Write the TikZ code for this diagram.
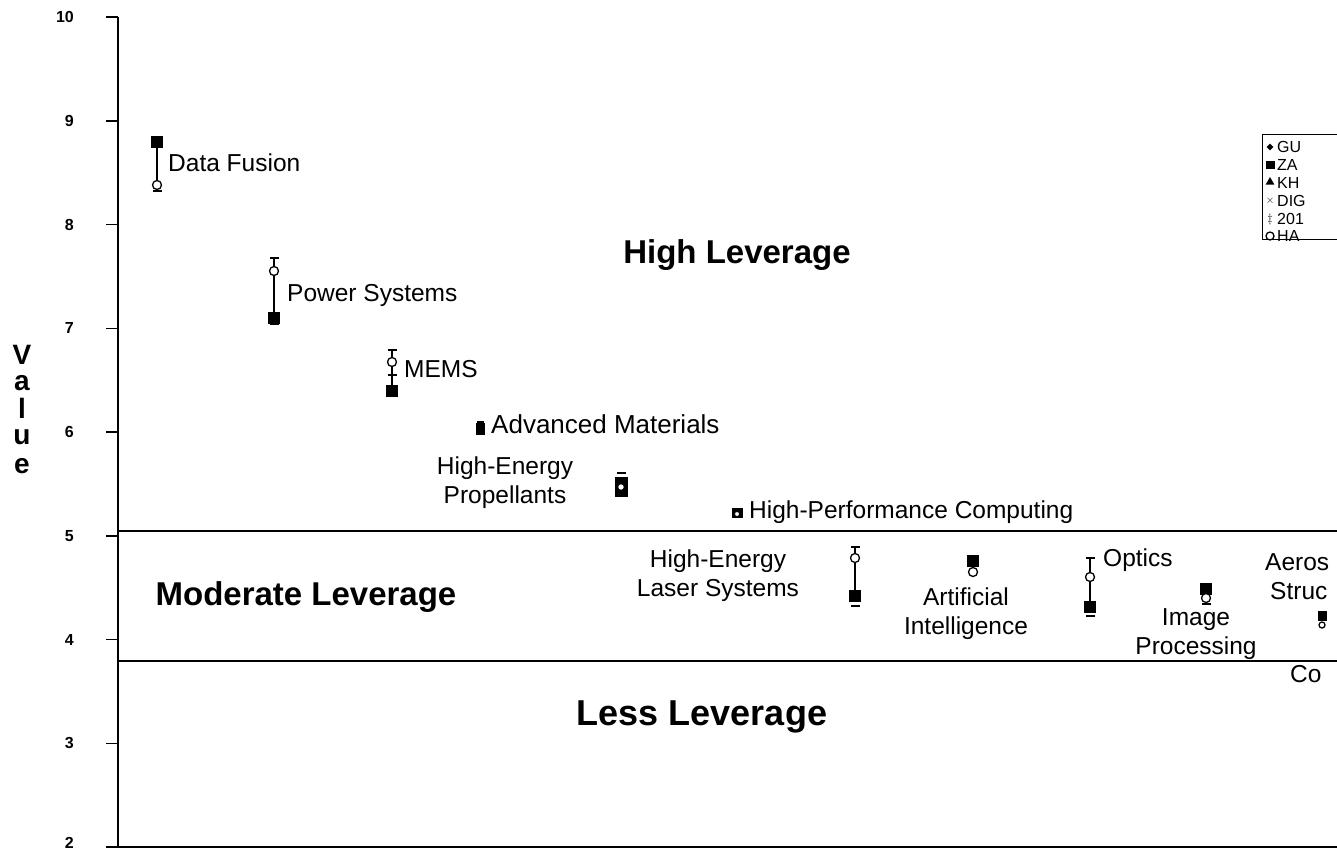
\documentclass[tikz,border=0pt]{standalone}
\usepackage{fontspec}
\setmainfont{Liberation Sans}
\usetikzlibrary{shapes.geometric}
\tikzset{
  axisline/.style={line width=1.8pt,black},
  levline/.style={line width=1.8pt,black},
  tickline/.style={line width=1.5pt,black},
  ticklab/.style={anchor=east,font=\fontsize{16}{18}\selectfont\bfseries,inner sep=0pt},
  lab/.style={font=\fontsize{24.5}{29}\selectfont,inner sep=0pt},
  biglab/.style={font=\fontsize{33}{38}\selectfont\bfseries,inner sep=0pt},
  vlab/.style={font=\fontsize{28}{30}\selectfont\bfseries,inner sep=0pt},
  sqm/.style={rectangle,fill=black,minimum width=12pt,minimum height=12pt,inner sep=0pt},
  openm/.style={circle,draw=black,fill=white,line width=1.3pt,minimum size=9pt,inner sep=0pt},
  capm/.style={rectangle,fill=black,minimum width=9pt,minimum height=2pt,inner sep=0pt},
  rng/.style={line width=1.8pt,black},
  legtext/.style={anchor=west,font=\fontsize{16}{18}\selectfont,inner sep=0pt},
}
\begin{document}
\begin{tikzpicture}[x=1pt,y=-1pt]
\useasboundingbox (0,0) rectangle (1337,852);
\clip (0,0) rectangle (1337,852);
\fill[white] (0,0) rectangle (1337,852);
% axes
\coordinate (ytop) at (118,17);
\coordinate (orig) at (118,847);
\coordinate (xend) at (1340,847);
\draw[axisline] (ytop) -- (orig) -- (xend);
% ticks and labels
\foreach \v in {3,...,10}{
  \pgfmathsetmacro{\yy}{847-(\v-2)*103.75}
  \coordinate (t\v) at (118,\yy);
  \coordinate (tl\v) at (106,\yy);
  \draw[tickline] (tl\v) -- (t\v);
  \node[ticklab] (n\v) at (74,\yy) {\v};
}
\coordinate (t2) at (118,847);
\coordinate (tl2) at (106,847);
\draw[tickline] (tl2) -- (t2);
\node[ticklab] (n2) at (74,843) {2};
% leverage boundaries
\coordinate (l1a) at (118,531); \coordinate (l1b) at (1340,531);
\coordinate (l2a) at (118,661); \coordinate (l2b) at (1340,661);
\draw[levline] (l1a) -- (l1b);
\draw[levline] (l2a) -- (l2b);
% axis title
\node[vlab] (va) at (22,355) {V};
\node[vlab] (vb) at (22,383) {a};
\node[vlab] (vc) at (22,408) {l};
\node[vlab] (vd) at (22,437) {u};
\node[vlab] (ve) at (22,466) {e};
% region labels
\node[biglab] (hl) at (737,255) {High Leverage};
\node[biglab] (ml) at (306,597) {Moderate Leverage};
\node[biglab,font=\fontsize{36}{40}\selectfont\bfseries] (ll) at (702,717) {Less Leverage};
% Data Fusion
\node[sqm] (df1) at (157,142) {};
\node[capm] (df3) at (157,191) {};
\draw[rng] (df1) -- (df3);
\node[openm] (df2) at (157,185) {};
\node[lab,anchor=west] (dfl) at (168,163) {Data Fusion};
% Power Systems
\node[capm] (ps0) at (274,258) {};
\node[sqm] (ps2) at (274,318) {};
\draw[rng] (ps0) -- (ps2);
\node[openm] (ps1) at (274,271) {};
\node[capm] (ps3) at (274,324) {};
\node[lab,anchor=west] (psl) at (287,295) {Power Systems};
% MEMS
\node[capm] (me0) at (392,350) {};
\node[sqm] (me3) at (392,391) {};
\draw[rng] (me0) -- (me3);
\node[openm] (me1) at (392,362) {};
\node[capm] (me2) at (392,375) {};
\node[lab,anchor=west] (mel) at (404,369) {MEMS};
% Advanced Materials
\node[sqm,minimum width=9pt,minimum height=12pt] (am1) at (480,429) {};
\node[capm,minimum width=7pt] (am0) at (480,422) {};
\node[lab,anchor=west,font=\fontsize{26}{30}\selectfont] (aml) at (491,424) {Advanced Materials};
% High-Energy Propellants
\node[capm] (hp0) at (621,473) {};
\node[sqm,minimum width=13pt,minimum height=20pt] (hp1) at (621,487) {};
\node[openm,minimum size=7pt] (hp2) at (621,487) {};
\node[lab,align=center] (hpl) at (505,483) {High-Energy\\Propellants};
% High-Performance Computing
\node[sqm,minimum width=11pt,minimum height=10pt] (hc1) at (737,513) {};
\node[openm,minimum size=5pt,line width=0.8pt] (hc2) at (737,514) {};
\node[lab,anchor=west] (hcl) at (749,512) {High-Performance Computing};
% High-Energy Laser Systems
\node[capm] (hl0) at (855,547) {};
\node[sqm] (hl2) at (855,596) {};
\draw[rng] (hl0) -- (hl2);
\node[openm] (hl1) at (855,558) {};
\node[capm] (hl3) at (855,606) {};
\node[lab,align=center] (hll) at (718,576) {High-Energy\\Laser Systems};
% Artificial Intelligence
\node[sqm] (ai1) at (973,561) {};
\node[openm] (ai2) at (973,572) {};
\node[lab,align=center] (ail) at (966,614) {Artificial\\Intelligence};
% Optics
\node[capm] (op0) at (1090,558) {};
\node[sqm] (op2) at (1090,607) {};
\draw[rng] (op0) -- (op2);
\node[openm] (op1) at (1090,577) {};
\node[capm] (op3) at (1090,616) {};
\node[lab,anchor=west] (opl) at (1103,560) {Optics};
% Image Processing
\node[sqm] (ip1) at (1206,589) {};
\node[openm] (ip2) at (1206,598) {};
\node[capm] (ip3) at (1206,604) {};
\node[lab,align=center] (ipl) at (1196,634) {Image\\Processing};
% Aerospace Structures
\node[sqm,minimum width=9pt,minimum height=10pt] (as1) at (1322,616) {};
\node[openm,minimum size=6pt] (as2) at (1322,625) {};
\node[lab,anchor=west] (asl1) at (1265,562) {Aeros};
\node[lab,anchor=west] (asl2) at (1270,591) {Struc};
\node[lab,anchor=west] (col) at (1290,674) {Co};
% legend
\node[draw=black,line width=1.3pt,rectangle,minimum width=90pt,minimum height=105pt,anchor=north west] (leg) at (1262,134) {};
\node[diamond,fill=black,minimum size=7pt,inner sep=0pt] (lm1) at (1270,147) {};
\node[legtext] (lt1) at (1277,147) {GU};
\node[rectangle,fill=black,minimum width=9pt,minimum height=8pt,inner sep=0pt] (lm2) at (1270,165) {};
\node[legtext] (lt2) at (1277,165) {ZA};
\node[regular polygon,regular polygon sides=3,fill=black,minimum size=10pt,inner sep=0pt] (lm3) at (1270,182) {};
\node[legtext] (lt3) at (1277,183) {KH};
\node[font=\fontsize{11}{11}\selectfont\bfseries,inner sep=0pt] (lm4) at (1270,201) {$\times$};
\node[legtext] (lt4) at (1277,201) {DIG};
\node[font=\fontsize{12}{12}\selectfont\bfseries,inner sep=0pt] (lm5) at (1270,219) {$\ddagger$};
\node[legtext] (lt5) at (1277,219) {201};
\node[openm,minimum size=8pt] (lm6) at (1270,236) {};
\node[legtext] (lt6) at (1277,236) {HA};
\end{tikzpicture}
\end{document}
